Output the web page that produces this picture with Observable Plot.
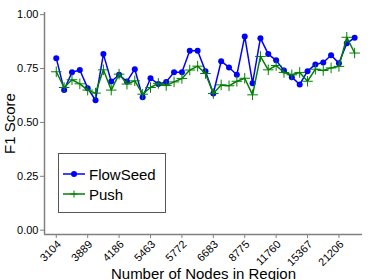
<!DOCTYPE html>
<html>
<head>
<meta charset="utf-8">
<script src="https://cdn.jsdelivr.net/npm/d3@7"></script>
<script src="https://cdn.jsdelivr.net/npm/@observablehq/plot@0.6"></script>
<style>
  html, body { margin: 0; padding: 0; background: #fff; }
  #wrap { position: relative; width: 374px; height: 280px; font-family: "Liberation Sans", Arial, sans-serif; }
  #legend { position: absolute; left: 58px; top: 153px; width: 106px; height: 58px; border: 1px solid #555; background: #fff; box-sizing: content-box; }
  .lgrow { position: absolute; left: 4px; height: 20px; display: flex; align-items: center; font-size: 15px; color: #000; }
  .lgrow svg { margin-right: 4px; }
</style>
</head>
<body>
<div id="wrap"></div>
<script>
const nodeTickLabels = ["3104", "3889", "4186", "5463", "5772", "6683", "8775", "11760", "15367", "21206"];
const flowSeed = [0.798, 0.651, 0.733, 0.743, 0.659, 0.603, 0.817, 0.690, 0.721, 0.690,
                  0.747, 0.617, 0.705, 0.678, 0.688, 0.733, 0.733, 0.833, 0.833, 0.738,
                  0.634, 0.784, 0.755, 0.721, 0.899, 0.682, 0.891, 0.817, 0.788, 0.741,
                  0.710, 0.676, 0.738, 0.769, 0.778, 0.812, 0.775, 0.867, 0.893];
const push = [0.735, 0.662, 0.698, 0.679, 0.650, 0.636, 0.744, 0.650, 0.724, 0.678,
              0.693, 0.631, 0.662, 0.681, 0.671, 0.688, 0.704, 0.743, 0.761, 0.727,
              0.634, 0.674, 0.670, 0.691, 0.705, 0.628, 0.806, 0.744, 0.764, 0.732,
              0.721, 0.732, 0.691, 0.747, 0.741, 0.753, 0.760, 0.895, 0.822];
const yTicks = [0, 0.25, 0.5, 0.75, 1.0];

const tickEvery = 4;
const tickIdx = nodeTickLabels.map((_, k) => k * tickEvery);
const flowData = flowSeed.map((v, i) => ({i, v}));
const pushData = push.map((v, i) => ({i, v}));
const xDomain = [-1.5, flowSeed.length];
const yDomain = [-0.02, 1.01];
const spine = "#808080";
const font = "Liberation Sans, Arial, sans-serif";

const chart = Plot.plot({
  width: 374,
  height: 280,
  marginLeft: 44,
  marginRight: 12,
  marginTop: 12,
  marginBottom: 46,
  style: {background: "#fff", fontFamily: font},
  x: {domain: xDomain},
  y: {domain: yDomain},
  marks: [
    Plot.ruleX([xDomain[0]], {stroke: spine, strokeWidth: 1.5}),
    Plot.ruleY([yDomain[0]], {stroke: spine, strokeWidth: 1.5}),
    Plot.axisY({ticks: yTicks, tickFormat: d3.format(".2f"), tickSize: 4, tickPadding: 2,
                fontSize: 11, stroke: spine, fill: "#000", label: null}),
    Plot.axisY({ticks: [], tickSize: 0, label: "F1 Score", labelAnchor: "center", labelArrow: "none",
                labelOffset: 40, fontSize: 15, fill: "#000"}),
    Plot.axisX({ticks: tickIdx, tickSize: 4, text: null, stroke: spine, label: null}),
    Plot.text(tickIdx, {x: (d) => d, frameAnchor: "bottom", text: (d) => nodeTickLabels[d / tickEvery],
                rotate: -45, textAnchor: "end", lineAnchor: "middle", dx: 3, dy: 8, fontSize: 11, fill: "#000"}),
    Plot.axisX({ticks: [], tickSize: 0, label: "Number of Nodes in Region", labelAnchor: "center",
                labelArrow: "none", labelOffset: 44, fontSize: 15, fill: "#000"}),
    Plot.line(flowData, {x: "i", y: "v", stroke: "#0000ff", strokeWidth: 1.5}),
    Plot.dot(flowData, {x: "i", y: "v", fill: "#0000ff", r: 3}),
    Plot.line(pushData, {x: "i", y: "v", stroke: "#008000", strokeWidth: 1.5}),
    Plot.dot(pushData, {x: "i", y: "v", symbol: "plus", stroke: "#008000", strokeWidth: 1, r: 3.5})
  ]
});

// carry each tick label's rotation on a wrapping <g> (same geometry as Plot's own transform)
chart.querySelectorAll('g[aria-label="text"] text').forEach((t) => {
  if (!nodeTickLabels.includes(t.textContent)) return;
  const tr = t.getAttribute("transform");
  if (!tr) return;
  const g = document.createElementNS("http://www.w3.org/2000/svg", "g");
  g.setAttribute("transform", tr);
  t.parentNode.insertBefore(g, t);
  t.removeAttribute("transform");
  g.appendChild(t);
});

const wrap = document.getElementById("wrap");
wrap.appendChild(chart);

const legend = document.createElement("div");
legend.id = "legend";
const entries = [
  {name: "FlowSeed", color: "#0000ff", marker: "circle"},
  {name: "Push", color: "#008000", marker: "plus"}
];
entries.forEach((e, k) => {
  const row = document.createElement("div");
  row.className = "lgrow";
  row.style.top = (10 + k * 20) + "px";
  const markerSvg = e.marker === "circle"
    ? `<circle cx="11" cy="6" r="3" fill="${e.color}"/>`
    : `<path d="M11,2.5V9.5M7.5,6H14.5" stroke="${e.color}" stroke-width="1"/>`;
  row.innerHTML = `<svg width="22" height="12"><line x1="0" y1="6" x2="22" y2="6" stroke="${e.color}" stroke-width="1.5"/>${markerSvg}</svg><span>${e.name}</span>`;
  legend.appendChild(row);
});
wrap.appendChild(legend);
</script>
</body>
</html>
